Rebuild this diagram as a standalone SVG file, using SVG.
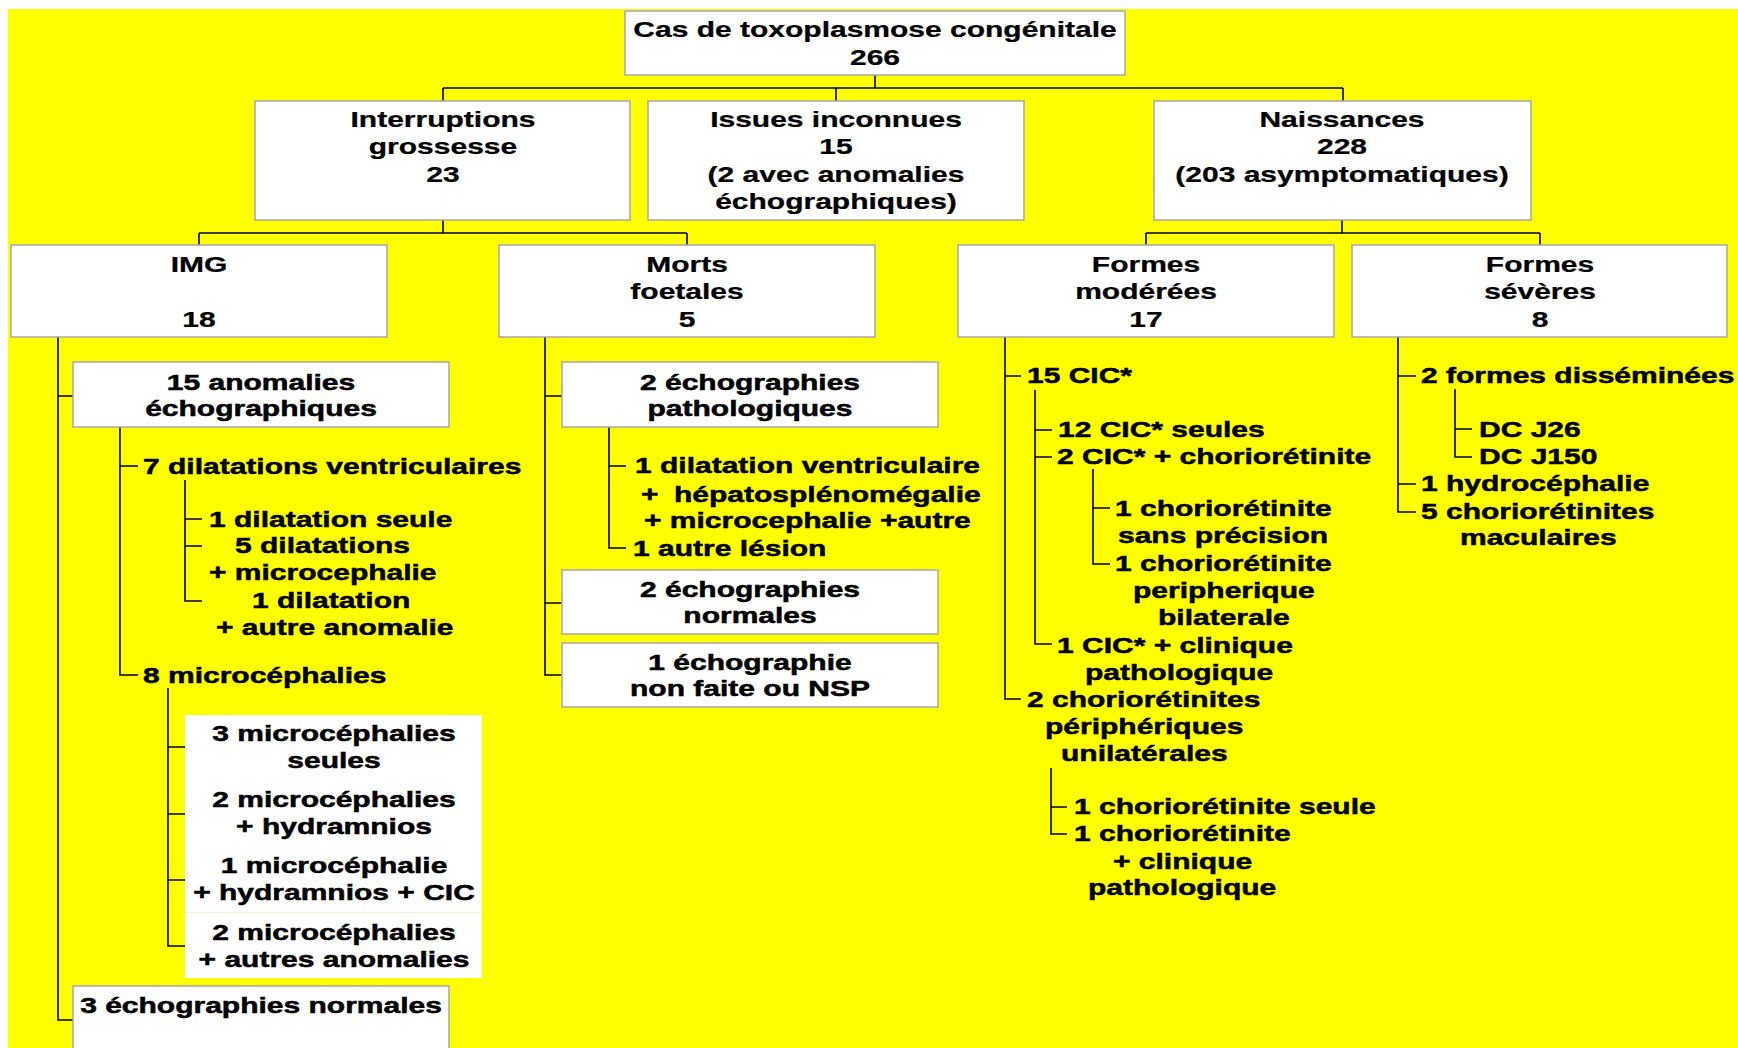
<svg xmlns="http://www.w3.org/2000/svg" width="1738" height="1048" viewBox="0 0 1738 1048">
<style>
.bg{fill:#ffff00}
.box{fill:#ffffff;stroke:#a8a8a8;stroke-width:1.5}
.wbox{fill:#ffffff;stroke:none}
.ln{fill:none;stroke:#000000;stroke-width:1.6}
text{font-family:"Liberation Sans",Arial,sans-serif;font-weight:bold;font-size:22px;fill:#000000;stroke:#000;stroke-width:0.25}
.c{text-anchor:middle}
.h{stroke:#000;stroke-width:0.5}
</style>
<rect x="0" y="0" width="1738" height="1048" fill="#ffffff"/>
<rect class="bg" x="8" y="9" width="1730" height="1039"/>

<g id="connectors">
<path class="ln" d="M875,75V88M443,88H1343M443,88V101M836,88V101M1343,88V101"/>
<path class="ln" d="M443,220V233M199,233H687M199,233V245M687,233V245"/>
<path class="ln" d="M1342,220V233M1146,233H1540M1146,233V245M1540,233V245"/>
<path class="ln" d="M58,337V1020H73M58,396H73"/>
<path class="ln" d="M120,427V675H138M120,466H138"/>
<path class="ln" d="M185,480V601H202M185,519H202M185,546H202"/>
<path class="ln" d="M168,688V946H185M168,747H185M168,814H185M168,880H185"/>
<path class="ln" d="M545,337V675H562M545,396H562M545,603H562"/>
<path class="ln" d="M609,427V548H626M609,466H626"/>
<path class="ln" d="M1005,337V699H1021M1005,376H1021"/>
<path class="ln" d="M1035,390V644H1052M1035,430H1052M1035,457H1052"/>
<path class="ln" d="M1093,469V564H1110M1093,508H1110"/>
<path class="ln" d="M1051,768V834H1067M1051,807H1067"/>
<path class="ln" d="M1398,337V512H1416M1398,376H1416M1398,484H1416"/>
<path class="ln" d="M1455,389V457H1472M1455,429H1472"/>
</g>

<g id="root">
<rect class="box" x="625" y="11" width="500" height="64"/>
<text class="c" transform="translate(875,37) scale(1.364,1)"><tspan x="0">Cas de toxoplasmose congénitale</tspan><tspan x="0" dy="28">266</tspan></text>
</g>

<g id="interruptions">
<rect class="box" x="255" y="101" width="375" height="119"/>
<text class="c" transform="translate(443,127) scale(1.364,1)"><tspan x="0">Interruptions</tspan><tspan x="0" dy="27.5">grossesse</tspan><tspan x="0" dy="27.5">23</tspan></text>
</g>

<g id="issues">
<rect class="box" x="648" y="101" width="376" height="119"/>
<text class="c" transform="translate(836,127) scale(1.364,1)"><tspan x="0">Issues inconnues</tspan><tspan x="0" dy="27.5">15</tspan><tspan x="0" dy="27.5">(2 avec anomalies</tspan><tspan x="0" dy="27.5">échographiques)</tspan></text>
</g>

<g id="naissances">
<rect class="box" x="1154" y="101" width="377" height="119"/>
<text class="c" transform="translate(1342,127) scale(1.364,1)"><tspan x="0">Naissances</tspan><tspan x="0" dy="27.5">228</tspan><tspan x="0" dy="27.5">(203 asymptomatiques)</tspan></text>
</g>

<g id="img">
<rect class="box" x="11" y="245" width="376" height="92"/>
<text class="c" transform="translate(199,272) scale(1.364,1)"><tspan x="0">IMG</tspan><tspan x="0" dy="55">18</tspan></text>
</g>

<g id="morts">
<rect class="box" x="499" y="245" width="376" height="92"/>
<text class="c" transform="translate(687,272) scale(1.364,1)"><tspan x="0">Morts</tspan><tspan x="0" dy="27.5">foetales</tspan><tspan x="0" dy="27.5">5</tspan></text>
</g>

<g id="moderees">
<rect class="box" x="958" y="245" width="376" height="92"/>
<text class="c" transform="translate(1146,272) scale(1.364,1)"><tspan x="0">Formes</tspan><tspan x="0" dy="27.5">modérées</tspan><tspan x="0" dy="27.5">17</tspan></text>
</g>

<g id="severes">
<rect class="box" x="1352" y="245" width="375" height="92"/>
<text class="c" transform="translate(1540,272) scale(1.364,1)"><tspan x="0">Formes</tspan><tspan x="0" dy="27.5">sévères</tspan><tspan x="0" dy="27.5">8</tspan></text>
</g>

<g id="anomalies15">
<rect class="box" x="73" y="362" width="376" height="65"/>
<text class="c h" transform="translate(261,390) scale(1.364,1)"><tspan x="0">15 anomalies</tspan><tspan x="0" dy="26.5">échographiques</tspan></text>
</g>

<g id="dilatations7"><text class="h" transform="translate(143,474) scale(1.364,1)">7 dilatations ventriculaires</text></g>
<g id="dilatation-seule"><text class="h" transform="translate(209,527) scale(1.364,1)">1 dilatation seule</text></g>
<g id="dilatations5">
<text class="h" transform="translate(235,553) scale(1.364,1)">5 dilatations</text>
<text class="h" transform="translate(209,580) scale(1.364,1)">+ microcephalie</text>
</g>
<g id="dilatation-autre">
<text class="h" transform="translate(252,608) scale(1.364,1)">1 dilatation</text>
<text class="h" transform="translate(216,635) scale(1.364,1)">+ autre anomalie</text>
</g>
<g id="microcephalies8"><text class="h" transform="translate(143,683) scale(1.364,1)">8 microcéphalies</text></g>

<g id="microcephalies-detail">
<rect class="wbox" x="185" y="715" width="297" height="263"/>
<line x1="185" y1="912.5" x2="482" y2="912.5" stroke="#f6f3d8" stroke-width="1"/>
<text class="c h" transform="translate(334,741) scale(1.364,1)"><tspan x="0">3 microcéphalies</tspan><tspan x="0" dy="27">seules</tspan></text>
<text class="c h" transform="translate(334,807) scale(1.364,1)"><tspan x="0">2 microcéphalies</tspan><tspan x="0" dy="27">+ hydramnios</tspan></text>
<text class="c h" transform="translate(334,873) scale(1.364,1)"><tspan x="0">1 microcéphalie</tspan><tspan x="0" dy="27">+ hydramnios + CIC</tspan></text>
<text class="c h" transform="translate(334,940) scale(1.364,1)"><tspan x="0">2 microcéphalies</tspan><tspan x="0" dy="27">+ autres anomalies</tspan></text>
</g>

<g id="echo-normales3">
<rect class="box" x="73" y="986" width="376" height="80"/>
<text class="c h" transform="translate(261,1013) scale(1.364,1)">3 échographies normales</text>
</g>

<g id="echo-patho2">
<rect class="box" x="562" y="362" width="376" height="65"/>
<text class="c h" transform="translate(750,390) scale(1.364,1)"><tspan x="0">2 échographies</tspan><tspan x="0" dy="26.5">pathologiques</tspan></text>
</g>
<g id="dilatation-ventriculaire">
<text class="h" transform="translate(635,473) scale(1.364,1)">1 dilatation ventriculaire</text>
<text class="h" transform="translate(641,501.5) scale(1.364,1)">+</text>
<text class="h" transform="translate(674,501.5) scale(1.364,1)">hépatosplénomégalie</text>
<text class="h" transform="translate(644,528) scale(1.364,1)">+ microcephalie +autre</text>
</g>
<g id="autre-lesion"><text class="h" transform="translate(633,556) scale(1.364,1)">1 autre lésion</text></g>
<g id="echo-normales2">
<rect class="box" x="562" y="570" width="376" height="64"/>
<text class="c h" transform="translate(750,597) scale(1.364,1)"><tspan x="0">2 échographies</tspan><tspan x="0" dy="26.5">normales</tspan></text>
</g>
<g id="echo-nonfaite">
<rect class="box" x="562" y="643" width="376" height="64"/>
<text class="c h" transform="translate(750,670) scale(1.364,1)"><tspan x="0">1 échographie</tspan><tspan x="0" dy="26.5">non faite ou NSP</tspan></text>
</g>

<g id="cic15"><text class="h" transform="translate(1027,383) scale(1.364,1)">15 CIC*</text></g>
<g id="cic12"><text class="h" transform="translate(1058,437) scale(1.364,1)">12 CIC* seules</text></g>
<g id="cic2"><text class="h" transform="translate(1057,464) scale(1.364,1)">2 CIC* + choriorétinite</text></g>
<g id="chorio-sans">
<text class="h" transform="translate(1115,516) scale(1.364,1)">1 choriorétinite</text>
<text class="h" transform="translate(1118,543) scale(1.364,1)">sans précision</text>
</g>
<g id="chorio-bilat">
<text class="h" transform="translate(1115,571) scale(1.364,1)">1 choriorétinite</text>
<text class="h" transform="translate(1133,598) scale(1.364,1)">peripherique</text>
<text class="h" transform="translate(1158,625) scale(1.364,1)">bilaterale</text>
</g>
<g id="cic1">
<text class="h" transform="translate(1057,653) scale(1.364,1)">1 CIC* + clinique</text>
<text class="h" transform="translate(1085,680) scale(1.364,1)">pathologique</text>
</g>
<g id="chorio2">
<text class="h" transform="translate(1027,707) scale(1.364,1)">2 choriorétinites</text>
<text class="h" transform="translate(1045,734) scale(1.364,1)">périphériques</text>
<text class="h" transform="translate(1061,761) scale(1.364,1)">unilatérales</text>
</g>
<g id="chorio-seule"><text class="h" transform="translate(1074,814) scale(1.364,1)">1 choriorétinite seule</text></g>
<g id="chorio-clinique">
<text class="h" transform="translate(1074,841) scale(1.364,1)">1 choriorétinite</text>
<text class="h" transform="translate(1113,869) scale(1.364,1)">+ clinique</text>
<text class="h" transform="translate(1088,895) scale(1.364,1)">pathologique</text>
</g>

<g id="disseminees"><text class="h" transform="translate(1421,383) scale(1.364,1)">2 formes disséminées</text></g>
<g id="dcj26"><text class="h" transform="translate(1479,437) scale(1.364,1)">DC J26</text></g>
<g id="dcj150"><text class="h" transform="translate(1479,464) scale(1.364,1)">DC J150</text></g>
<g id="hydrocephalie"><text class="h" transform="translate(1421,491) scale(1.364,1)">1 hydrocéphalie</text></g>
<g id="maculaires">
<text class="h" transform="translate(1421,519) scale(1.364,1)">5 choriorétinites</text>
<text class="h" transform="translate(1460,545) scale(1.364,1)">maculaires</text>
</g>
</svg>
